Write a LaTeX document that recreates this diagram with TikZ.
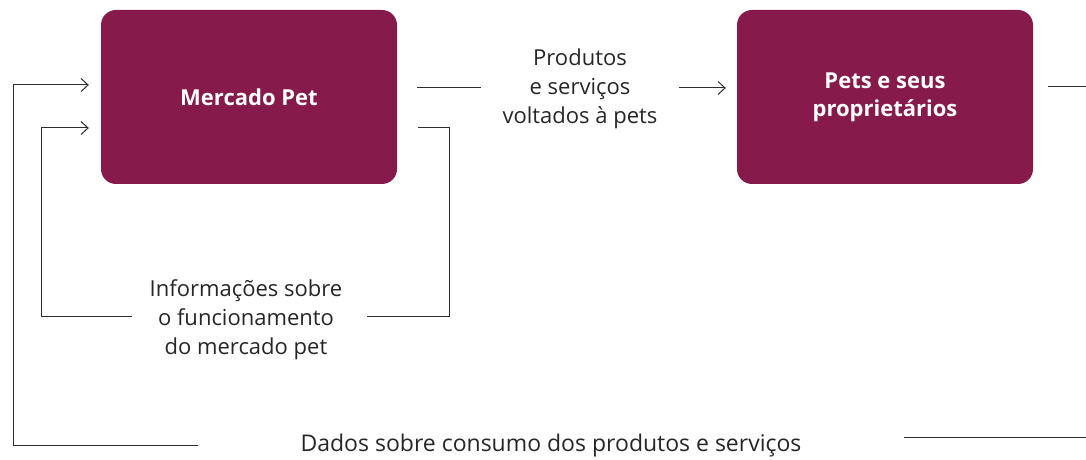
\documentclass[tikz,border=0pt]{standalone}
\usepackage{fontspec}
\setmainfont{Open Sans}
\usetikzlibrary{arrows.meta, positioning, calc}
\definecolor{petwine}{RGB}{134,26,75}
\definecolor{lineGray}{RGB}{45,45,45}

\begin{document}
\begin{tikzpicture}[x=1pt, y=1pt,
    box/.style={fill=petwine, rounded corners=15pt, minimum width=296pt, minimum height=174pt, text=white, align=center, font=\fontsize{22}{28}\selectfont\bfseries},
    label/.style={align=center, text=black!85, font=\fontsize{22}{29}\selectfont, inner ysep=0pt},
    conn/.style={draw=lineGray, line width=1pt},
    arr/.style={conn, -{Straight Barb[length=7pt, width=13pt]}}]
    \useasboundingbox (0,0) rectangle (1086,460);

    % boxes
    \node[box] at (249,363) (mercado) {Mercado Pet};
    \node[box] at (885,363) (pets) {Pets e seus\\proprietários};

    % labels
    \node[label, inner xsep=21pt] at (580,371) (prod) {Produtos\\e serviços\\voltados à pets};
    \node[label, inner xsep=18pt] at (246,140) (info) {Informações sobre\\o funcionamento\\ do mercado pet};
    \node[label, inner xsep=102pt, font=\fontsize{23}{29}\selectfont] at (551,14) (dados) {Dados sobre consumo dos produtos e serviços};

    % helper points
    \coordinate (inR) at (418,332);
    \coordinate (inL) at (41,332);
    \coordinate (outL) at (13,375);
    \coordinate (petsOut) at (1086,373);
    \coordinate (dadosOut) at (1086,22);

    % produtos
    \draw[conn] ([xshift=20pt,yshift=1pt]mercado.east |- prod) -- ([yshift=1pt]prod.west);
    \draw[arr] ([yshift=1pt]prod.east) -- ([xshift=-11pt,yshift=1pt]pets.west |- prod.east);
    \draw[conn] ([xshift=15pt]pets.east |- petsOut) -- (petsOut);

    % info loop
    \draw[conn] (inR) -| ([xshift=52pt,yshift=3pt]mercado.east |- info.east) -- ([xshift=7pt,yshift=3pt]info.east);
    \draw[arr] ([yshift=3pt]info.west) -| (inL) -- ([xshift=-12pt]mercado.west |- inL);

    % dados loop
    \draw[conn] ([yshift=8pt]dados.east) -- (dadosOut);
    \draw[arr] (dados.west) -| (outL) -- ([xshift=-12pt]mercado.west |- outL);
\end{tikzpicture}
\end{document}
